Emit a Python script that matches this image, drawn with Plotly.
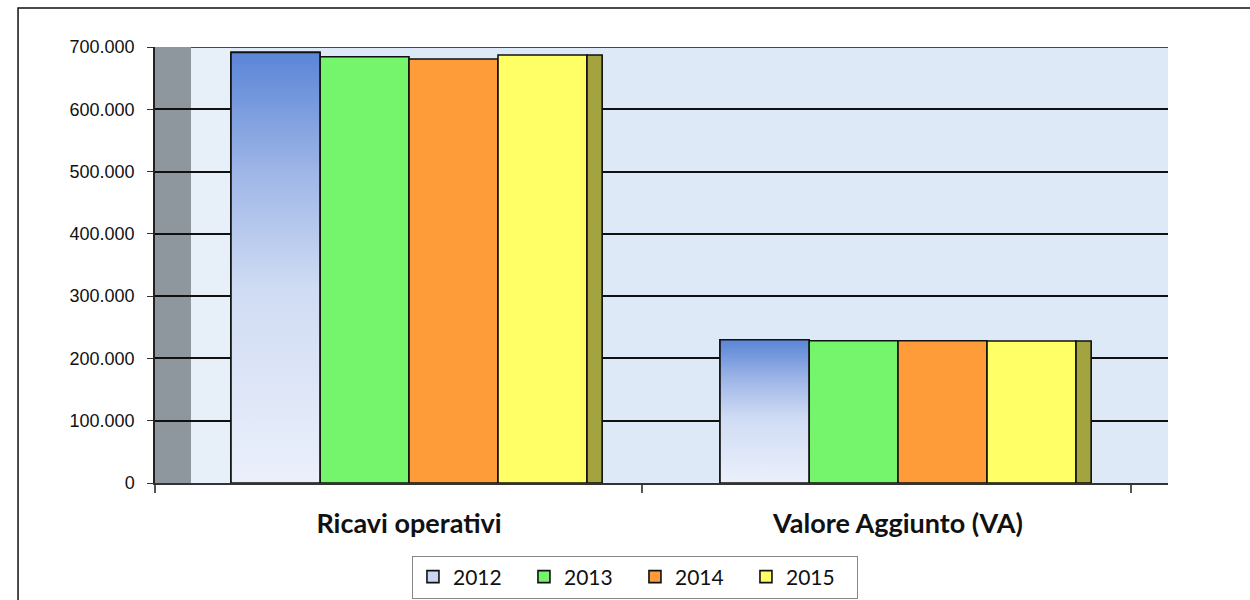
import plotly.graph_objects as go

categories = ["Ricavi operativi", "Valore Aggiunto (VA)"]
years = ["2012", "2013", "2014", "2015"]
v2012 = [691400, 230000]
v2013 = [684400, 228500]
v2014 = [680700, 228500]
v2015 = [687100, 228000]
y_ticks = [0, 100000, 200000, 300000, 400000, 500000, 600000, 700000]

cat_pos = list(range(len(categories)))
BW = 0.182
offsets = [-0.364, -0.182, 0.0, 0.182]
colors = ["#c9d7f3", "#74f56c", "#fd9c38", "#ffff66"]
series = [v2012, v2013, v2014, v2015]

fig = go.Figure()

# legend / base bars
for i, (yr, vals, col) in enumerate(zip(years, series, colors)):
    fig.add_trace(go.Bar(
        x=cat_pos, y=vals, name=yr, offset=offsets[i], width=BW,
        marker=dict(color=col, line=dict(color="#111111", width=1.6)),
        showlegend=True,
    ))

# 3D side face of the last bar
fig.add_trace(go.Bar(
    x=cat_pos, y=v2015, name="side", offset=0.364, width=0.031,
    marker=dict(color="#a3a33f", line=dict(color="#111111", width=1.6)),
    showlegend=False, hoverinfo="skip",
))

# gradient overlay for 2012 bars
for c, v in zip(cat_pos, v2012):
    x0 = c + offsets[0]
    x1 = x0 + BW
    fig.add_trace(go.Scatter(
        x=[x0, x1, x1, x0, x0], y=[0, 0, v, v, 0],
        mode="lines", fill="toself",
        line=dict(color="#111111", width=1.6),
        fillgradient=dict(type="vertical",
                          colorscale=[[0, "#ebf0fb"], [0.45, "#d0dcf4"],
                                      [0.72, "#9fb6e7"], [1, "#5a85d6"]]),
        showlegend=False, hoverinfo="skip",
    ))

XMIN, XMAX = -0.5194, 1.5521

fig.update_layout(
    width=1250, height=600,
    margin=dict(l=155, r=82, t=47, b=117, autoexpand=False),
    paper_bgcolor="white",
    plot_bgcolor="#dde9f7",
    barmode="overlay",
    separators=",.",
    showlegend=True,
    legend=dict(
        orientation="h", x=0.4738, y=-0.2156, xanchor="center", yanchor="middle",
        bordercolor="#888888", borderwidth=1, bgcolor="white",
        font=dict(family="Comic Sans MS, Lato, sans-serif", size=21, color="#111111"),
        entrywidth=66, entrywidthmode="pixels", itemwidth=30,
    ),
    xaxis=dict(
        range=[XMIN, XMAX], tickvals=cat_pos, ticktext=categories,
        ticks="", showgrid=False, zeroline=False,
        showline=True, linecolor="#333333", linewidth=2,
        tickfont=dict(family="Comic Sans MS, Lato, sans-serif", size=27, color="#111111",
                      weight="bold"),
        ticklabelstandoff=16,
        minor=dict(tickvals=[-0.519, 0.476, 1.476], ticks="outside", ticklen=8,
                   tickcolor="#555555", tickwidth=1.5, showgrid=False),
    ),
    yaxis=dict(
        range=[y_ticks[0], y_ticks[-1]], tickvals=y_ticks,
        tickformat=",d", ticks="outside", ticklen=6, tickcolor="#333333",
        showgrid=True, gridcolor="#111111", gridwidth=1.6,
        zeroline=False, showline=True, linecolor="#222222", linewidth=1.5,
        tickfont=dict(family="Liberation Sans, Arial, sans-serif", size=18, color="#111111"),
        ticklabelstandoff=9,
    ),
    shapes=[
        dict(type="rect", xref="x", yref="paper", x0=XMIN, x1=-0.4458, y0=0, y1=1,
             fillcolor="#8e969e", line=dict(width=0), layer="below"),
        dict(type="rect", xref="x", yref="paper", x0=-0.4458, x1=-0.364, y0=0, y1=1,
             fillcolor="#e7eff9", line=dict(width=0), layer="below"),
        dict(type="line", xref="x", yref="y", x0=-0.4458, x1=XMAX,
             y0=y_ticks[-1], y1=y_ticks[-1],
             line=dict(color="#111111", width=1.6), layer="between"),
        dict(type="rect", xref="paper", yref="paper", x0=-0.1352, x1=1.2, y0=-0.3, y1=1.0894,
             fillcolor="rgba(0,0,0,0)", line=dict(color="#111111", width=1.5), layer="above"),
    ],
)

fig.write_html("out.html", config={"displayModeBar": False},
               post_script="document.body.style.margin='0';")
